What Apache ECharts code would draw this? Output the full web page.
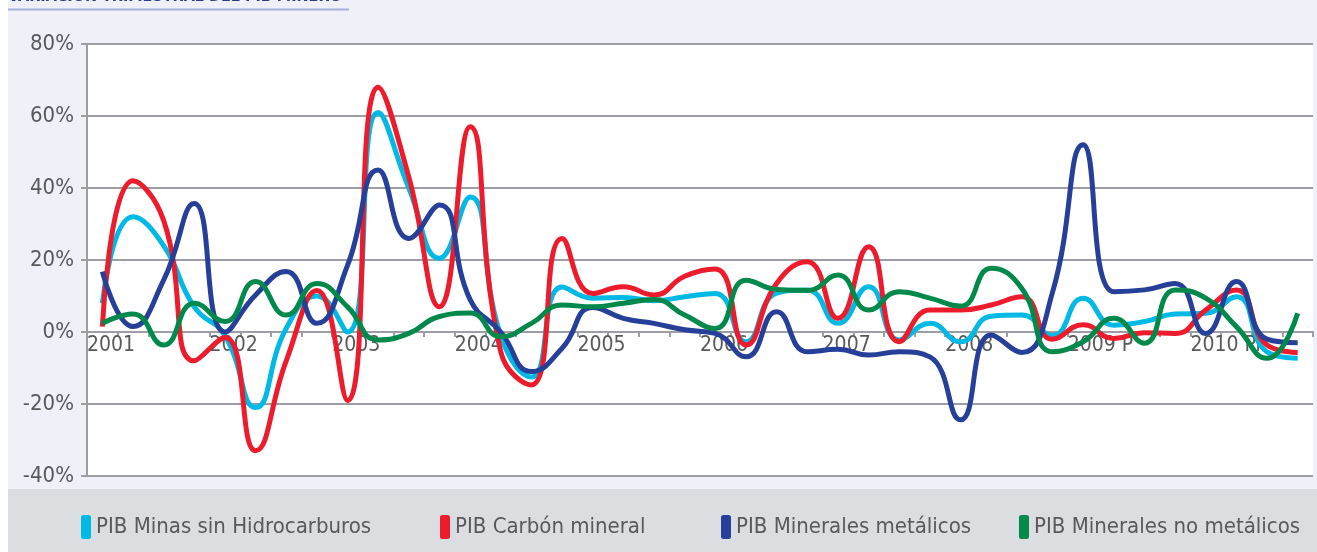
<!DOCTYPE html>
<html>
<head>
<meta charset="utf-8">
<title>Variación trimestral del PIB minero</title>
<script src="https://cdn.jsdelivr.net/npm/echarts@6/dist/echarts.min.js"></script>
<style>
  html, body { margin: 0; padding: 0; background: #fff; }
  #main { width: 1317px; height: 552px; }
</style>
</head>
<body>
<div id="main"></div>
<script>
// años (cada uno con 4 trimestres)
var years = ['2001', '2002', '2003', '2004', '2005', '2006', '2007', '2008', '2009 P', '2010 Pr']
var seriesNames = ['PIB Minas sin Hidrocarburos', 'PIB Carbón mineral', 'PIB Minerales metálicos', 'PIB Minerales no metálicos']
var seriesColors = ['#00b9e4', '#ec1c2c', '#263f98', '#00894b']

// variación trimestral (%), 40 trimestres
var minasSinHidrocarburos = [8, 32, 24, 7, -1, -21, 1, 10, 0, 61, 40, 20.5, 37.5, -1, -12.5, 12.5,
  9.4, 9.6, 8.7, 9.8, 10.7, -2.7, 10.8, 11.7, 2.4, 12.6, -2.2, 2.4, -2.7, 4.4, 4.7, -1,
  9.4, 1.9, 2.9, 5, 5.2, 9.8, -5.5, -7.3]
var carbonMineral = [1.5, 42, 31, -8, -1.5, -33, -8, 11.5, -19, 68, 43, 7, 57, -5.5, -14.7, 26,
  10.7, 12.6, 10.3, 15.5, 17.5, -3.6, 13.5, 19.5, 3.8, 23.7, -2.7, 6.1, 6.1, 7.5, 9.8, -2,
  2, -1.8, -0.2, -0.4, 6.1, 11.7, -3.6, -5.7]
var mineralesMetalicos = [16.8, 1.5, 14.4, 35.7, 0, 10.3, 16.8, 2.4, 18.5, 45, 26, 35.3, 9, 0, -11, -4.5,
  6.8, 3.8, 2.4, 0.6, -0.4, -6.9, 5.6, -5.5, -4.8, -6.4, -5.5, -6.9, -24.4, -0.8, -5.7, 11,
  52, 11.2, 11.7, 13.5, -0.4, 14, -2, -3]
var mineralesNoMetalicos = [2.4, 5, -3.6, 8, 2.9, 14, 4.7, 13.5, 7, -2.2, -0.4, 4.3, 5.3, -1.3, 2.4, 7.5,
  7, 8, 9, 4.7, 1, 14.4, 11.8, 11.5, 15.8, 6.1, 11.2, 9.4, 7.2, 17.7, 12.1, -5.5,
  -2.7, 3.8, -3.1, 11.7, 9.4, 1.5, -7.3, 5.2]

var allSeries = [minasSinHidrocarburos, carbonMineral, mineralesMetalicos, mineralesNoMetalicos]
var legendLeft = [81, 440, 721, 1019]

var labelFont = 'DejaVu Sans Condensed, Liberation Sans, sans-serif'
var labelColor = '#58595b'
var gridColor = '#9d9ea3'

var chart = echarts.init(document.getElementById('main'))

var option = {
  backgroundColor: '#ffffff',
  animation: false,
  graphic: [
    { type: 'rect', z: -10, shape: { x: 8, y: 0, width: 1309, height: 489 }, style: { fill: '#eff0f8' } },
    { type: 'rect', z: -10, shape: { x: 8, y: 489, width: 1309, height: 63 }, style: { fill: '#dcdde0' } },
    {
      type: 'text', left: 8, top: -11, z: -5,
      style: { text: 'VARIACIÓN TRIMESTRAL DEL PIB MINERO', fill: '#2b3b86', font: 'bold 16px ' + labelFont }
    },
    { type: 'line', z: -5, shape: { x1: 8, y1: 9.5, x2: 349, y2: 9.5 }, style: { stroke: '#a6b0da', lineWidth: 2 } }
  ],
  grid: {
    left: 87, right: 4, top: 44, bottom: 76,
    show: true, backgroundColor: '#ffffff', borderWidth: 0
  },
  legend: seriesNames.map(function (name, i) {
    return {
      data: [name],
      left: legendLeft[i],
      top: 515,
      padding: 0,
      icon: 'roundRect',
      itemWidth: 10,
      itemHeight: 24,
      textStyle: { fontFamily: labelFont, fontSize: 22, color: labelColor }
    }
  }),
  xAxis: {
    type: 'value',
    min: 0,
    max: years.length * 4,
    interval: 4,
    axisLine: { onZero: true, lineStyle: { color: gridColor, width: 2 } },
    axisTick: { show: true, length: 5, lineStyle: { color: gridColor, width: 2 } },
    minorTick: { show: true, splitNumber: 4, length: 5, lineStyle: { color: gridColor, width: 2 } },
    splitLine: { show: false },
    axisLabel: {
      showMaxLabel: false,
      align: 'left',
      margin: -141,
      fontFamily: labelFont,
      fontSize: 21,
      color: labelColor,
      formatter: function (v) {
        return years[Math.round(v / 4)] || ''
      }
    }
  },
  yAxis: {
    type: 'value',
    min: -40,
    max: 80,
    interval: 20,
    axisLine: { show: true, onZero: false, lineStyle: { color: gridColor, width: 2 } },
    axisTick: { show: true, length: 6, lineStyle: { color: gridColor, width: 2 } },
    splitLine: { lineStyle: { color: gridColor, width: 2 } },
    axisLabel: {
      margin: 13,
      fontFamily: labelFont,
      fontSize: 22,
      color: labelColor,
      padding: [0, 0, 6, 0],
      formatter: '{value}%'
    }
  },
  series: allSeries.map(function (values, i) {
    return {
      name: seriesNames[i],
      type: 'line',
      smooth: true,
      showSymbol: false,
      symbol: 'none',
      color: seriesColors[i],
      lineStyle: { width: 5, color: seriesColors[i] },
      data: values.map(function (v, q) { return [q + 0.5, v] })
    }
  })
}

chart.setOption(option)
</script>
</body>
</html>
